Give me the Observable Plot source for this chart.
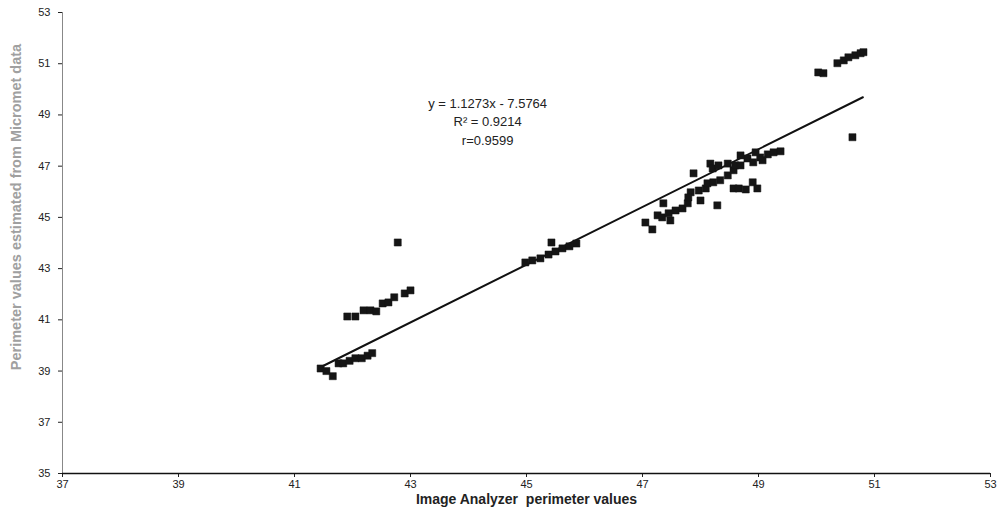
<!DOCTYPE html>
<html>
<head>
<meta charset="utf-8">
<script src="https://cdn.jsdelivr.net/npm/d3@7"></script>
<script src="https://cdn.jsdelivr.net/npm/@observablehq/plot@0.6"></script>
<style>
  html, body { margin: 0; padding: 0; background: #fff; }
  #chart svg { display: block; font-family: "Liberation Sans", Arial, sans-serif; }
  [aria-label="x-axis tick label"] text, [aria-label="y-axis tick label"] text { font-family: "Liberation Sans Narrow", "Liberation Sans", Arial, sans-serif; }
  [aria-label="x-axis label"] text { font-weight: bold; font-size: 14px; fill: #222; }
  [aria-label="y-title"] text { letter-spacing: 0.7px; }
</style>
</head>
<body>
<div id="chart"></div>
<script>
// Image Analyzer perimeter values (x) and Micromet-estimated values (y)
const imageAnalyzer = [
  41.45, 41.55, 41.66, 41.76, 41.84, 41.95, 42.05, 42.16, 42.26, 42.34,
  41.91, 42.05, 42.19, 42.31, 42.41, 42.52, 42.62, 42.72, 42.90, 43.00, 42.78,
  44.98, 45.10, 45.24, 45.38, 45.50, 45.62, 45.74, 45.86, 45.43,
  47.05, 47.17, 47.26, 47.36, 47.34, 47.45, 47.48, 47.57, 47.69, 47.78, 47.83, 47.88, 47.79,
  48.00, 47.97, 48.09, 48.17, 48.21, 48.12, 48.29, 48.22, 48.34, 48.47, 48.57, 48.60,
  48.57, 48.66, 48.78, 48.90, 48.98, 48.69, 48.81, 48.91, 48.31, 48.47, 48.69,
  49.03, 49.16, 49.26, 49.38, 49.07, 48.95,
  50.03, 50.12, 50.36, 50.47, 50.55, 50.67, 50.76, 50.81, 50.62
];
const micromet = [
  39.10, 39.00, 38.80, 39.30, 39.30, 39.40, 39.50, 39.50, 39.60, 39.70,
  41.13, 41.13, 41.37, 41.37, 41.33, 41.64, 41.68, 41.88, 42.03, 42.15, 44.02,
  43.24, 43.32, 43.40, 43.55, 43.67, 43.79, 43.87, 43.98, 44.02,
  44.80, 44.53, 45.08, 45.55, 45.00, 45.16, 44.88, 45.27, 45.35, 45.55, 45.98, 46.72, 45.78,
  45.66, 46.05, 46.13, 47.10, 46.91, 46.33, 45.47, 46.37, 46.45, 46.64, 46.84, 47.03,
  46.13, 46.13, 46.09, 46.37, 46.13, 47.03, 47.30, 47.15, 47.03, 47.10, 47.42,
  47.34, 47.46, 47.54, 47.58, 47.23, 47.54,
  50.66, 50.63, 51.02, 51.13, 51.25, 51.33, 51.41, 51.45, 48.13
];
// Trend line as printed on the chart
const slope = 1.1273;
const intercept = -7.5764;
const fitRange = [41.5, 50.8];
const equationLines = ["y = 1.1273x - 7.5764", "R\u00b2 = 0.9214", "r=0.9599"];
const equationX = [44.33, 44.33, 44.33];
const equationY = [49.45, 48.72, 48.0];
const xTicks = [37, 39, 41, 43, 45, 47, 49, 51, 53];
const yTicks = [35, 37, 39, 41, 43, 45, 47, 49, 51, 53];
const xTitle = "Image Analyzer  perimeter values";
const yTitle = "Perimeter values estimated from Micromet data";

const points = imageAnalyzer.map((x, i) => ({x, y: micromet[i]}));
const fit = fitRange.map(x => ({x, y: slope * x + intercept}));
const eq = equationLines.map((t, i) => ({t, x: equationX[i], y: equationY[i]}));

const chart = Plot.plot({
  width: 1007,
  height: 511,
  marginLeft: 62,
  marginRight: 17,
  marginTop: 12,
  marginBottom: 38,
  style: {fontSize: "11px", color: "#222", background: "#fff"},
  x: {domain: [37, 53]},
  y: {domain: [35, 53]},
  marks: [
    Plot.axisX({ticks: xTicks, tickSize: 4, tickPadding: 3, fontSize: 11,
      label: xTitle, labelAnchor: "center", labelArrow: "none", labelOffset: 30}),
    Plot.axisY({ticks: yTicks, tickSize: 4, tickPadding: 8, fontSize: 11, label: null}),
    Plot.text([yTitle], {frameAnchor: "left", rotate: -90, dx: -46, dy: -36, fontSize: 14.5,
      textAnchor: "middle", fontWeight: "bold", fill: "#a0a0a0", text: d => d, ariaLabel: "y-title"}),
    Plot.ruleX([37], {stroke: "#888", strokeWidth: 1}),
    Plot.ruleY([35], {stroke: "#111", strokeWidth: 1.5}),
    Plot.line(fit, {x: "x", y: "y", stroke: "#111", strokeWidth: 2}),
    Plot.dot(points, {x: "x", y: "y", symbol: "square", r: 4, fill: "#151515", stroke: "#151515", strokeWidth: 0.5}),
    Plot.text(eq, {x: "x", y: "y", text: "t", fontSize: 13, fill: "#222", textAnchor: "middle"})
  ]
});
document.getElementById("chart").appendChild(chart);
</script>
</body>
</html>
